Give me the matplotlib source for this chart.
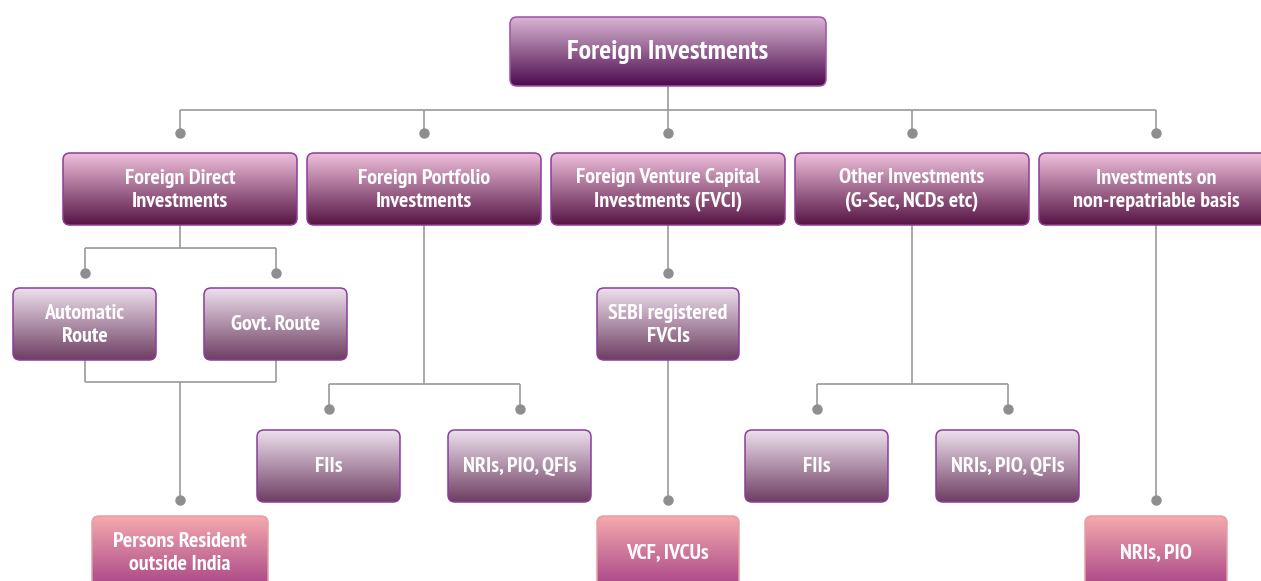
import numpy as np
import matplotlib.pyplot as plt
from matplotlib import font_manager as fm
from matplotlib.patches import FancyBboxPatch
from matplotlib.colors import LinearSegmentedColormap

W, H = 1261, 581

# labels of the chart, top to bottom
root_label = "Foreign Investments"
level1_labels = [
    "Foreign Direct\nInvestments",
    "Foreign Portfolio\nInvestments",
    "Foreign Venture Capital\nInvestments (FVCI)",
    "Other Investments\n(G-Sec, NCDs etc)",
    "Investments on\nnon-repatriable basis",
]
fdi_routes = ["Automatic\nRoute", "Govt. Route"]
fpi_children = ["FIIs", "NRIs, PIO, QFIs"]
fvci_children = ["SEBI registered\nFVCIs"]
other_children = ["FIIs", "NRIs, PIO, QFIs"]
end_labels = ["Persons Resident\noutside India", "VCF, IVCUs", "NRIs, PIO"]

# gradient top, gradient bottom, edge
STYLES = {
    "root": ("#d9b6d2", "#4c0a4e", "#a050a8"),
    "main": ("#efc0dc", "#561444", "#8e3c96"),
    "sub": ("#eee0ee", "#6e3e62", "#8c3c9c"),
    "end": ("#f5aaae", "#a84486", "#e4a0a4"),
}
LINE = "#9a9a9a"
DOT = "#8e8e90"


def pick_font():
    # look for a narrow bold face, like the condensed font of the original
    cands = []
    for f in fm.fontManager.ttflist:
        fn = f.fname.lower()
        if ("condensed" in fn or "narrow" in fn) and f.weight in ("bold", 700) \
                and "italic" not in fn and "oblique" not in fn and "semi" not in fn \
                and "extra" not in fn and "cjk" not in fn:
            cands.append(f.fname)
    if cands:
        cands.sort(key=lambda p: ("narrow" not in p.lower(), "dejavu" in p.lower(), p))
        return fm.FontProperties(fname=cands[0]), 1.0
    return fm.FontProperties(family="Roboto", weight="bold"), 0.85


FONT, SCALE = pick_font()

fig = plt.figure(figsize=(W / 100, H / 100), dpi=100)
ax = fig.add_axes([0, 0, 1, 1])
ax.set_xlim(0, W)
ax.set_ylim(H, 0)
ax.axis("off")


def box(x, y, w, h, label, style, fs=15.8):
    top, bot, edge = STYLES[style]
    patch = FancyBboxPatch((x, y), w, h, boxstyle="round,pad=0,rounding_size=7",
                           fc="none", ec=edge, lw=1.1, zorder=3)
    ax.add_patch(patch)
    cmap = LinearSegmentedColormap.from_list(style, [top, bot])
    grad = np.linspace(0, 1, 256).reshape(-1, 1)
    im = ax.imshow(grad, cmap=cmap, extent=(x, x + w, y + h, y), aspect="auto",
                   interpolation="bilinear", zorder=2)
    im.set_clip_path(patch)
    fp = FONT.copy()
    fp.set_size(fs * SCALE)
    ax.text(x + w / 2, y + h / 2 + 1, label, ha="center", va="center", color="white",
            fontproperties=fp, linespacing=1.28, zorder=4)
    return x + w / 2


def vline(x, y0, y1):
    ax.plot([x, x], [y0, y1], color=LINE, lw=1.2, zorder=1, solid_capstyle="butt")


def hline(x0, x1, y):
    ax.plot([x0, x1], [y, y], color=LINE, lw=1.2, zorder=1, solid_capstyle="butt")


def dot(x, y):
    ax.plot(x, y, "o", ms=7.5, color=DOT, mec="none", zorder=2)


def fan(px, py, bus_y, xs, dot_y):
    vline(px, py, bus_y)
    hline(min(xs), max(xs), bus_y)
    for cx in xs:
        vline(cx, bus_y, dot_y)
        dot(cx, dot_y)


# root
root_x = box(510, 17, 316, 69, root_label, "root", fs=20)

# level 1
l1_w, l1_h, l1_y = 234, 72, 153
l1_x = [63 + i * 244 for i in range(len(level1_labels))]
l1_c = [box(x, l1_y, l1_w, l1_h, lab, "main") for x, lab in zip(l1_x, level1_labels)]
fan(root_x, 86, 110, l1_c, 133)

sw, sh = 143, 72
l1_bot = l1_y + l1_h

# FDI routes
route_c = [box(x, 288, sw, sh, lab, "sub") for x, lab in zip([13, 204], fdi_routes)]
fan(l1_c[0], l1_bot, 248, route_c, 273)
# both routes lead to persons resident outside India
for cx in route_c:
    vline(cx, 360, 382)
hline(route_c[0], route_c[1], 382)
vline(l1_c[0], 382, 500)
dot(l1_c[0], 500)
box(92, 516, 176, 72, end_labels[0], "end")

# FPI
fpi_c = [box(x, 430, sw, sh, lab, "sub") for x, lab in zip([257, 448], fpi_children)]
fan(l1_c[1], l1_bot, 384, fpi_c, 409)

# FVCI
vline(l1_c[2], l1_bot, 273)
dot(l1_c[2], 273)
sebi_c = box(597, 288, 142, sh, fvci_children[0], "sub")
vline(sebi_c, 360, 500)
dot(sebi_c, 500)
box(597, 516, 142, 72, end_labels[1], "end")

# Other investments
oth_c = [box(x, 430, sw, sh, lab, "sub") for x, lab in zip([745, 936], other_children)]
fan(l1_c[3], l1_bot, 384, oth_c, 409)

# non-repatriable
vline(l1_c[4], l1_bot, 500)
dot(l1_c[4], 500)
box(1085, 516, 142, 72, end_labels[2], "end")

ax.set_xlim(0, W)
ax.set_ylim(H, 0)

fig.savefig("out.png", dpi=100)
